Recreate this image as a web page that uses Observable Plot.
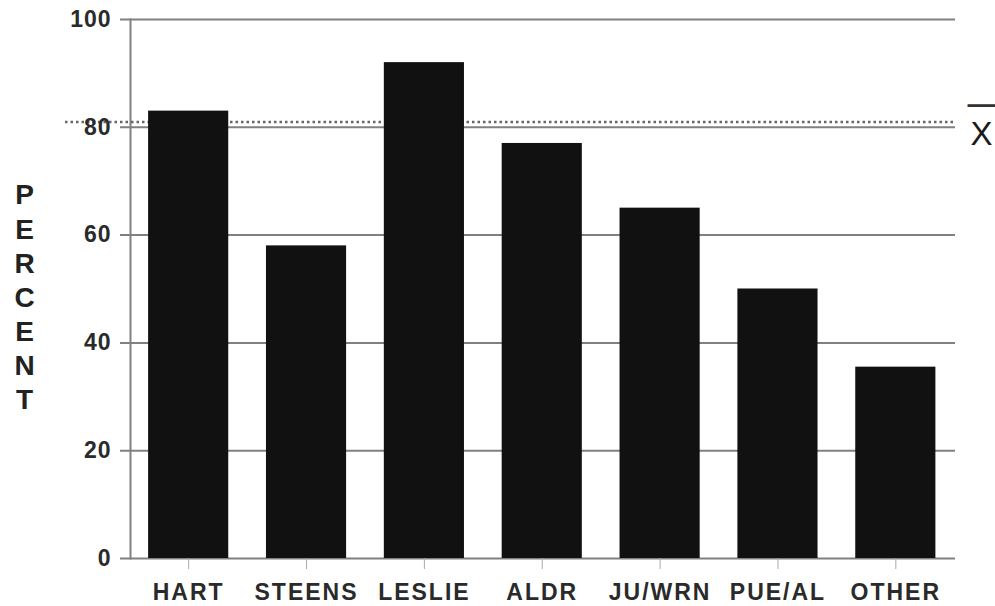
<!DOCTYPE html>
<html>
<head>
<meta charset="utf-8">
<script src="https://cdn.jsdelivr.net/npm/d3@7"></script>
<script src="https://cdn.jsdelivr.net/npm/@observablehq/plot@0.6"></script>
<style>
  html, body { margin: 0; padding: 0; background: #fff; }
  #chart svg { display: block; }
</style>
</head>
<body>
<div id="chart"></div>
<script>
const categories = ["HART", "STEENS", "LESLIE", "ALDR", "JU/WRN", "PUE/AL", "OTHER"];
const percents = [83, 58, 92, 77, 65, 50, 35.5];
const meanValue = 81;
const yTicks = [0, 20, 40, 60, 80, 100];
const yLabel = "PERCENT";
const meanLabel = "X";

const data = categories.map((c, i) => ({category: c, value: percents[i]}));
const font = "'Liberation Sans', Arial, Helvetica, sans-serif";

const chart = Plot.plot({
  width: 995,
  height: 606,
  marginLeft: 130,
  marginRight: 40,
  marginTop: 19,
  marginBottom: 48,
  style: {fontFamily: font, background: "#fff"},
  x: {domain: categories, paddingInner: 0.32, paddingOuter: 0.16, align: 0.48, round: false, label: null},
  y: {domain: [0, 100], label: null},
  marks: [
    Plot.ruleY(yTicks, {stroke: "#808080", strokeWidth: 2, insetLeft: -10}),
    Plot.frame({anchor: "left", stroke: "#808080", strokeWidth: 2}),
    Plot.ruleY([meanValue], {stroke: "#666", strokeWidth: 2.5, strokeDasharray: "2.5,3", insetLeft: -65}),
    Plot.barY(data, {x: "category", y: "value", fill: "#111"}),
    Plot.axisY({ticks: yTicks, tickSize: 0, tickPadding: 19, fontSize: 23, fontWeight: "bold", fill: "#2a2a2a", label: null}),
    Plot.axisX({tickSize: 11, tickPadding: 14, fontSize: 23, fontWeight: "bold", fill: "#2a2a2a", stroke: "#aaa", label: null}),
    Plot.text([yLabel.split("").join("\n")], {
      frameAnchor: "left", dx: -106, dy: 7, text: d => d, textAnchor: "middle",
      fontSize: 28, fontWeight: "bold", lineHeight: 1.22, fill: "#222"
    }),
    Plot.text([meanValue], {
      y: d => d, frameAnchor: "right", dx: 26, dy: 13, text: () => meanLabel,
      textAnchor: "middle", fontSize: 33, fill: "#1a1a1a"
    }),
    Plot.text([meanValue], {
      y: d => d, frameAnchor: "right", dx: 26, dy: -18, text: () => "\u2014",
      textAnchor: "middle", fontSize: 28, fontWeight: "bold", fill: "#333"
    })
  ]
});
d3.select(chart).selectAll("g[aria-label='x-axis tick label'] text")
  .style("letter-spacing", "2px");
d3.select(chart).selectAll("g[aria-label='y-axis tick label'] text")
  .style("letter-spacing", "1px");
document.getElementById("chart").appendChild(chart);
</script>
</body>
</html>
